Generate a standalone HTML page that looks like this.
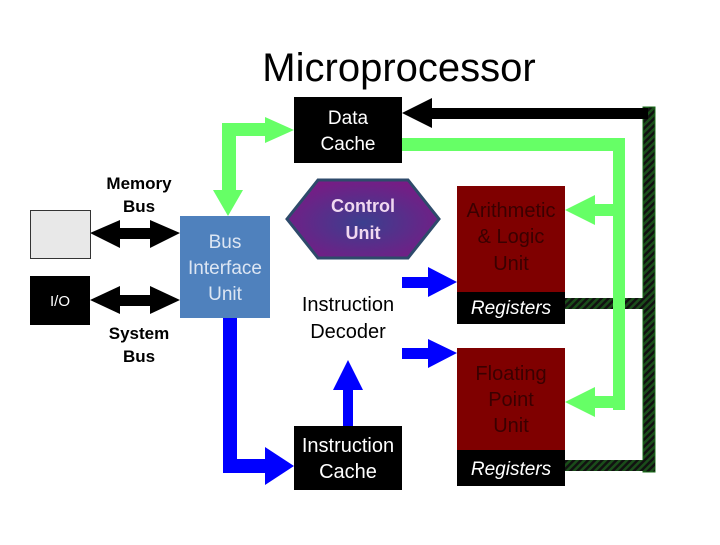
<!DOCTYPE html>
<html><head><style>
body{margin:0;width:720px;height:540px;background:#fff;overflow:hidden;font-family:"Liberation Sans",sans-serif}
</style></head><body>
<svg width="720" height="540" xmlns="http://www.w3.org/2000/svg" font-family="Liberation Sans, sans-serif">
<defs>
<pattern id="h" width="5" height="5" patternUnits="userSpaceOnUse" patternTransform="rotate(45)">
<rect width="5" height="5" fill="#1a4d1a"/><rect width="2.5" height="5" fill="#111"/></pattern>
<radialGradient id="cu" cx="0.5" cy="0.55" r="0.6"><stop offset="0" stop-color="#3b3f8f"/><stop offset="1" stop-color="#7a1a84"/></radialGradient>
</defs>
<text x="399" y="81" font-size="40" text-anchor="middle">Microprocessor</text>
<rect x="643" y="107" width="12" height="365" fill="url(#h)" stroke="#1a6d1a"/>
<rect x="565" y="298" width="90" height="11" fill="url(#h)"/>
<rect x="565" y="460" width="90" height="11" fill="url(#h)"/>
<rect x="430" y="108" width="218" height="11" fill="#000"/>
<polygon points="402,113 432,98 432,128" fill="#000"/>
<rect x="402" y="138" width="223" height="13" fill="#66ff66"/>
<rect x="613" y="138" width="12" height="272" fill="#66ff66"/>
<rect x="593" y="204" width="25" height="12" fill="#66ff66"/>
<polygon points="565,210 595,195 595,225" fill="#66ff66"/>
<rect x="593" y="396" width="25" height="12" fill="#66ff66"/>
<polygon points="565,402 595,387 595,417" fill="#66ff66"/>
<rect x="222" y="123" width="14" height="70" fill="#66ff66"/>
<rect x="222" y="123" width="46" height="13" fill="#66ff66"/>
<polygon points="294,130 265,117 265,143" fill="#66ff66"/>
<polygon points="213,190 243,190 228,216" fill="#66ff66"/>
<rect x="223" y="316" width="14" height="157" fill="#0000ff"/>
<rect x="223" y="459" width="45" height="14" fill="#0000ff"/>
<polygon points="294,466 265,447 265,485" fill="#0000ff"/>
<rect x="343" y="388" width="10" height="38" fill="#0000ff"/>
<polygon points="348,360 333,390 363,390" fill="#0000ff"/>
<rect x="402" y="277" width="30" height="11" fill="#0000ff"/>
<polygon points="457,282 428,267 428,297" fill="#0000ff"/>
<rect x="402" y="348" width="30" height="11" fill="#0000ff"/>
<polygon points="457,353 428,339 428,368" fill="#0000ff"/>
<rect x="110" y="228" width="50" height="11" fill="#000"/>
<polygon points="90,233 120,220 120,248" fill="#000"/><polygon points="180,233 150,220 150,248" fill="#000"/>
<rect x="110" y="295" width="50" height="11" fill="#000"/>
<polygon points="90,300 120,286 120,314" fill="#000"/><polygon points="180,300 150,286 150,314" fill="#000"/>
<rect x="294" y="97" width="108" height="66" fill="#000"/>
<text x="348" y="124" fill="#fff" font-size="19" text-anchor="middle">Data</text>
<text x="348" y="150" fill="#fff" font-size="19" text-anchor="middle">Cache</text>
<rect x="30.5" y="210.5" width="60" height="48" fill="#e8e8e8" stroke="#333"/>
<rect x="30" y="276" width="60" height="49" fill="#000"/>
<text x="60" y="306" fill="#fff" font-size="15" text-anchor="middle">I/O</text>
<text x="139" y="189" font-size="17" font-weight="bold" text-anchor="middle">Memory</text>
<text x="139" y="212" font-size="17" font-weight="bold" text-anchor="middle">Bus</text>
<text x="139" y="339" font-size="17" font-weight="bold" text-anchor="middle">System</text>
<text x="139" y="362" font-size="17" font-weight="bold" text-anchor="middle">Bus</text>
<rect x="180" y="216" width="90" height="102" fill="#4f81bd"/>
<text x="225" y="248" fill="#dde6f3" font-size="19" text-anchor="middle">Bus</text>
<text x="225" y="274" fill="#dde6f3" font-size="19" text-anchor="middle">Interface</text>
<text x="225" y="300" fill="#dde6f3" font-size="19" text-anchor="middle">Unit</text>
<polygon points="287,219 318,180 408,180 439,219 408,258 318,258" fill="url(#cu)" stroke="#2e4a6b" stroke-width="3"/>
<text x="363" y="212" fill="#f0d8f0" font-size="18" font-weight="bold" text-anchor="middle">Control</text>
<text x="363" y="239" fill="#f0d8f0" font-size="18" font-weight="bold" text-anchor="middle">Unit</text>
<text x="348" y="311" font-size="20" text-anchor="middle">Instruction</text>
<text x="348" y="338" font-size="20" text-anchor="middle">Decoder</text>
<rect x="294" y="426" width="108" height="64" fill="#000"/>
<text x="348" y="452" fill="#fff" font-size="20" text-anchor="middle">Instruction</text>
<text x="348" y="478" fill="#fff" font-size="20" text-anchor="middle">Cache</text>
<rect x="457" y="186" width="108" height="106" fill="#7f0000"/>
<text x="511" y="217" fill="#3a0000" font-size="20" text-anchor="middle">Arithmetic</text>
<text x="511" y="243" fill="#3a0000" font-size="20" text-anchor="middle">&amp; Logic</text>
<text x="511" y="270" fill="#3a0000" font-size="20" text-anchor="middle">Unit</text>
<rect x="457" y="292" width="108" height="32" fill="#000"/>
<text x="511" y="314" fill="#fff" font-size="19" font-style="italic" text-anchor="middle">Registers</text>
<rect x="457" y="348" width="108" height="102" fill="#7f0000"/>
<text x="511" y="380" fill="#3a0000" font-size="20" text-anchor="middle">Floating</text>
<text x="511" y="406" fill="#3a0000" font-size="20" text-anchor="middle">Point</text>
<text x="511" y="432" fill="#3a0000" font-size="20" text-anchor="middle">Unit</text>
<rect x="457" y="450" width="108" height="36" fill="#000"/>
<text x="511" y="475" fill="#fff" font-size="19" font-style="italic" text-anchor="middle">Registers</text>
</svg>
</body></html>
